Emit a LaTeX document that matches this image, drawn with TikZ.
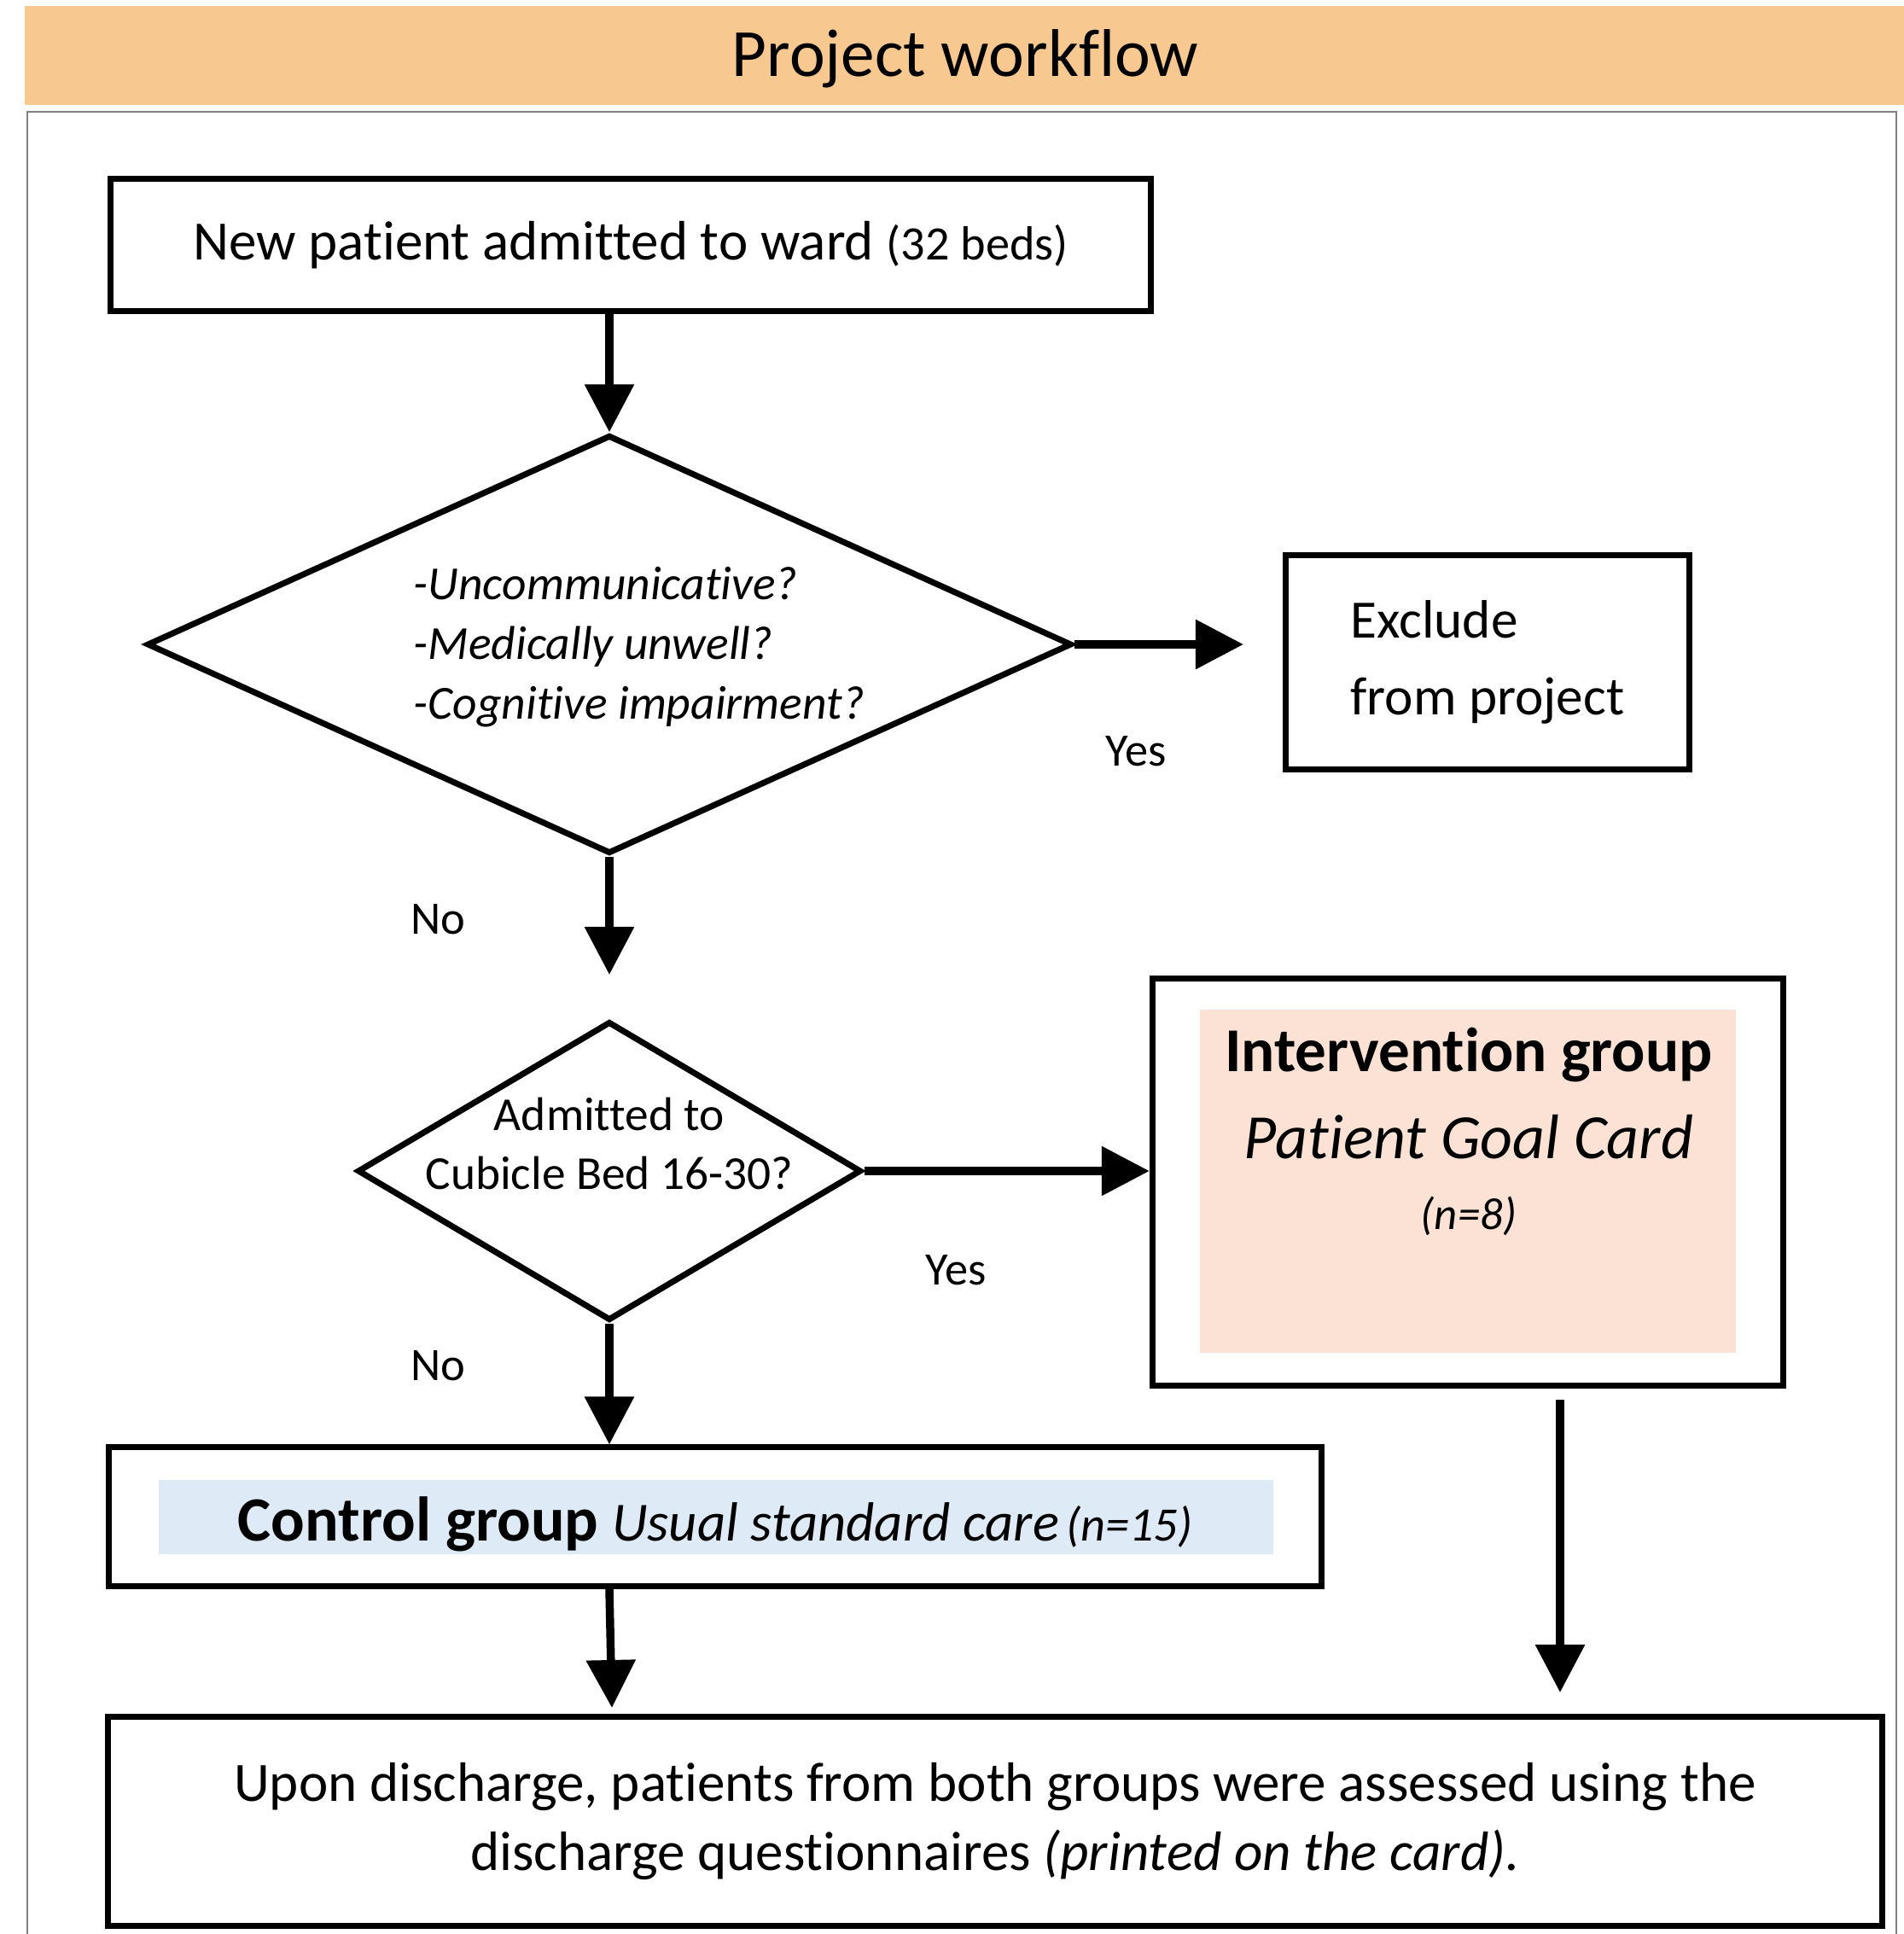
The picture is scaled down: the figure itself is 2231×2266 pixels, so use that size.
\documentclass[tikz,border=0pt]{standalone}
\usepackage{fontspec}
\setmainfont{Carlito}[Ligatures=NoCommon]
\usetikzlibrary{shapes.geometric,arrows.meta,positioning}

\definecolor{bandorange}{HTML}{F8C891}
\definecolor{cardpink}{HTML}{FBE2D5}
\definecolor{careblue}{HTML}{DEEAF6}

\tikzset{
  box/.style={draw, line width=2pt, inner sep=0pt},
  decision/.style={diamond, draw, line width=2pt, inner sep=0pt},
  flow/.style={line width=2.7pt, -{Triangle[length=0.56cm,width=0.56cm]}},
  lbl/.style={font=\fontsize{15.5}{18}\selectfont}
}

\begin{document}
\begin{tikzpicture}[x=0.01cm,y=-0.01cm]
			\useasboundingbox (0,0) rectangle (2231,2266);

			% Titel
			\fill[bandorange] (29,7) rectangle (2231,123);
			\node[anchor=base, font=\fontsize{22.5}{27}\selectfont] (title) at (1131,89) {Project workflow};
			\draw[gray, line width=0.6pt] (32,2280) -- (32,131) -- (2222,131) -- (2222,2280);

			% Hintergrundflaechen
			\fill[cardpink] (1406,1183) rectangle (2034,1585);
			\fill[careblue] (186,1734) rectangle (1492,1821);

			% Kaesten
			\node[box, minimum width=12.19cm, minimum height=1.55cm, font=\fontsize{18.5}{22}\selectfont] (admit) at (739,287)
				{New patient admitted to ward {\fontsize{16}{19}\selectfont(32 beds)}};
			\node[box, minimum width=4.73cm, minimum height=2.51cm, align=left, font=\fontsize{18}{25.6}\selectfont] (excl) at (1743,776)
				{Exclude\\from project};
			\node[box, minimum width=7.39cm, minimum height=4.77cm] (interv) at (1720,1385) {};
			\node[box, minimum width=14.21cm, minimum height=1.62cm] (ctrl) at (838,1777) {};
			\node[box, minimum width=20.78cm, minimum height=2.44cm, align=center, font=\fontsize{18.5}{23.3}\selectfont] (outcome) at (1166,2134)
				{Upon discharge, patients from both groups were assessed using the\\discharge questionnaires \textit{(printed on the card).}};

			% Rauten
			\node[decision, minimum width=10.83cm, minimum height=4.9cm] (check) at (714,755) {};
			\node[anchor=west, inner sep=0pt, align=left, font=\fontsize{15.8}{19.9}\selectfont\itshape] (checktxt) at (484,758)
				{-Uncommunicative?\\-Medically unwell?\\-Cognitive impairment?};
			\node[decision, minimum width=5.9cm, minimum height=3.5cm] (cubicle) at (714,1372) {};
			\node[align=center, inner sep=0pt, font=\fontsize{15.75}{19.6}\selectfont] (cubicletxt) at (714,1340)
				{Admitted to\\Cubicle Bed 16-30?};

			% Gruppentexte
			\node[anchor=base, font=\fontsize{20.8}{25}\selectfont\bfseries] (intA) at (1721,1255) {Intervention group};
			\node[anchor=base, font=\fontsize{21}{25}\selectfont\itshape] (intB) at (1721,1357) {Patient Goal Card};
			\node[anchor=base, font=\fontsize{15}{18}\selectfont\itshape] (intC) at (1721,1440) {(n=8)};
			\node[anchor=base] (ctrltxt) at (838,1805)
				{{\fontsize{21}{25}\selectfont\bfseries Control group}\hspace{0.45em}{\fontsize{18.4}{22}\selectfont\itshape Usual standard care} {\fontsize{16}{19}\selectfont\itshape(n=15)}};

			% Beschriftungen
			\node[lbl] (yes1) at (1331,880) {Yes};
			\node[lbl] (no1) at (513,1077) {No};
			\node[lbl] (yes2) at (1120,1488) {Yes};
			\node[lbl] (no2) at (513,1600) {No};

			% Pfeile
			\coordinate (exclTip) at (1457,755);
			\coordinate (cubicleTip) at (714,1142);
			\coordinate (outTip) at (717,2001);
			\coordinate (intStart) at (1828,1640);
			\coordinate (intTip) at (1828,1983);
			\draw[flow] (admit.south -| check.north) -- (check.north);
			\draw[flow] (check.east) -- (exclTip);
			\draw[flow] (check.south) -- (cubicleTip);
			\draw[flow] (cubicle.east) -- (cubicle.east -| interv.west);
			\draw[flow] (cubicle.south) -- (cubicle.south |- ctrl.north);
			\draw[flow] (cubicle.south |- ctrl.south) -- (outTip);
			\draw[flow] (intStart) -- (intTip);

		\end{tikzpicture}
\end{document}
